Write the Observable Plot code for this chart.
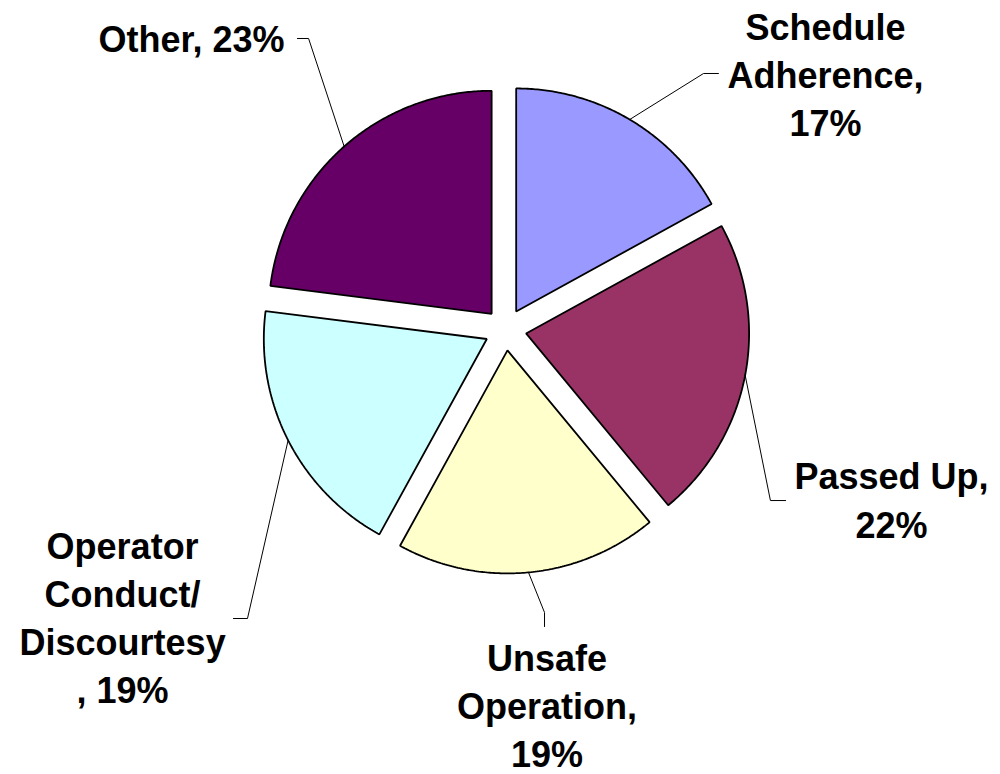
<!DOCTYPE html>
<html>
<head>
<meta charset="utf-8">
<script src="https://cdn.jsdelivr.net/npm/d3@7"></script>
<script src="https://cdn.jsdelivr.net/npm/@observablehq/plot@0.6"></script>
<style>
  body { margin: 0; background: #ffffff; }
  #chart { width: 1000px; height: 774px; }
</style>
</head>
<body>
<div id="chart"></div>
<script>
// ---- data ----
const categories = ["Schedule Adherence", "Passed Up", "Unsafe Operation", "Operator Conduct/Discourtesy", "Other"];
const percents = [17, 22, 19, 19, 23];
const sliceColors = ["#9999FF", "#993366", "#FFFFCC", "#CCFFFF", "#660066"];

// ---- layout (units of pie radius, centre of pie = 0,0) ----
const explode = 0.094;
const labelBreaks = [[8, 19], [10], [6, 17], [8, 17, 28], []];
const labelPos = [
  { x: 1.435, y: 0.8655 },
  { x: 1.731, y: -0.933 },
  { x: 0.186, y: -1.964 },
  { x: -1.717, y: -1.677 },
  { x: -1.408, y: 1.2435 }
];
const leaderElbows = [
  [[0.888, 1.148], [0.955, 1.148]],
  [[1.188, -0.767], [1.256, -0.767]],
  [[0.175, -1.269], [0.175, -1.332]],
  [[-1.157, -1.296], [-1.220, -1.296]],
  [[-0.883, 1.305], [-0.933, 1.305]]
];

function wrap(str, breaks) {
  let s = str;
  [...breaks].sort((a, b) => b - a).forEach(i => {
    if (s[i] === " ") s = s.slice(0, i) + "\n" + s.slice(i + 1);
    else s = s.slice(0, i) + "\n" + s.slice(i);
  });
  return s;
}

const data = categories.map((c, i) => ({ name: c, value: percents[i] }));
const arcs = d3.pie().sort(null).value(d => d.value)(data);

const slicePts = [];
const leaderPts = [];
const labels = [];
arcs.forEach((a, i) => {
  const name = a.data.name;
  const mid = (a.startAngle + a.endAngle) / 2;
  const ox = explode * Math.sin(mid), oy = explode * Math.cos(mid);
  const n = Math.max(2, Math.ceil((a.endAngle - a.startAngle) / (Math.PI / 360)));
  slicePts.push({ name, x: ox, y: oy });
  for (let k = 0; k <= n; ++k) {
    const t = a.startAngle + (a.endAngle - a.startAngle) * k / n;
    slicePts.push({ name, x: ox + Math.sin(t), y: oy + Math.cos(t) });
  }
  leaderPts.push({ name, x: ox + Math.sin(mid), y: oy + Math.cos(mid) });
  leaderElbows[i].forEach(([x, y]) => leaderPts.push({ name, x, y }));
  labels.push({
    name,
    text: wrap(`${name}, ${a.data.value}%`, labelBreaks[i]),
    x: labelPos[i].x,
    y: labelPos[i].y
  });
});

const R = 223, W = 1000, H = 774, CX = 505, CY = 329;

const chart = Plot.plot({
  width: W,
  height: H,
  margin: 0,
  x: { axis: null, domain: [-CX / R, (W - CX) / R] },
  y: { axis: null, domain: [-(H - CY) / R, CY / R] },
  color: { domain: categories, range: sliceColors },
  marks: [
    Plot.line(slicePts, {
      x: "x", y: "y", z: "name", fill: "name",
      stroke: "#000000", strokeWidth: 1.8, strokeLinejoin: "miter",
      curve: "linear-closed"
    }),
    Plot.line(leaderPts, {
      x: "x", y: "y", z: "name",
      stroke: "#000000", strokeWidth: 1
    }),
    Plot.text(labels, {
      x: "x", y: "y", text: "text",
      lineAnchor: "bottom", textAnchor: "middle", lineHeight: 1.34,
      fontSize: 36, fontWeight: "bold",
      fontFamily: "'Liberation Sans', Arial, Helvetica, sans-serif",
      fill: "#000000"
    })
  ]
});

document.getElementById("chart").appendChild(chart);
</script>
</body>
</html>
